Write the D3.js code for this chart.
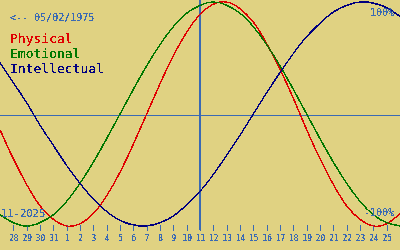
<!DOCTYPE html>
<html lang="en">
<head>
    <meta charset="UTF-8"/>
    <title>Biorhythm</title>
    <script type="text/javascript" src="https://d3js.org/d3.v7.min.js"></script>
    <style>
        body { margin: 0; background: #e0d282; }
        svg { display: block; }
    </style>
</head>
<body>
<script type="text/javascript">

    // one value per day, 27 Oct .. 26 Nov 2025
    var days = ["27", "28", "29", "30", "31", "1", "2", "3", "4", "5", "6", "7", "8", "9", "10",
        "11", "12", "13", "14", "15", "16", "17", "18", "19", "20", "21", "22", "23", "24", "25", "26"];

    var physical = [-0.14, -0.40, -0.63, -0.82, -0.94, -1.00, -0.98, -0.89, -0.73, -0.52, -0.27, 0, 0.27, 0.52, 0.73,
        0.89, 0.98, 1.00, 0.94, 0.82, 0.63, 0.40, 0.14, -0.14, -0.40, -0.63, -0.82, -0.94, -1.00, -0.98, -0.89];
    var emotional = [-0.90, -0.97, -1.00, -0.97, -0.90, -0.78, -0.62, -0.43, -0.22, 0, 0.22, 0.43, 0.62, 0.78, 0.90,
        0.97, 1.00, 0.97, 0.90, 0.78, 0.62, 0.43, 0.22, 0, -0.22, -0.43, -0.62, -0.78, -0.90, -0.97, -1.00];
    var intellectual = [0.46, 0.28, 0.10, -0.10, -0.28, -0.46, -0.62, -0.76, -0.87, -0.95, -0.99, -1.00, -0.97, -0.91, -0.81,
        -0.69, -0.54, -0.37, -0.19, 0, 0.19, 0.37, 0.54, 0.69, 0.81, 0.91, 0.97, 1.00, 0.99, 0.95, 0.87];

    var seriesNames = ["Physical", "Emotional", "Intellectual"];
    var seriesColors = ["#e00000", "#007800", "#000080"];
    var todayIndex = 15;
    var birthLabel = "<-- 05/02/1975";
    var monthLabel = "11-2025";

    var width = 400, height = 250;
    var blue = "#3a6ab4";
    var mono = "'DejaVu Sans Mono', monospace";

    var x = d3.scaleLinear().domain([0, days.length - 1]).range([0, width]);
    var y = d3.scaleLinear().domain([-1, 1]).range([226, 2]);

    var svg = d3.select("body").append("svg")
        .attr("width", width)
        .attr("height", height);

    // hard-edged look: drop the antialiasing by thresholding alpha
    var f = svg.append("defs").append("filter")
        .attr("id", "px")
        .attr("color-interpolation-filters", "sRGB")
        .attr("filterUnits", "userSpaceOnUse")
        .attr("x", 0).attr("y", 0)
        .attr("width", width).attr("height", height);
    f.append("feComponentTransfer")
        .append("feFuncA").attr("type", "discrete").attr("tableValues", "0 1 1");

    svg.append("rect")
        .attr("width", width).attr("height", height)
        .attr("fill", "#e0d282");

    var g = svg.append("g").attr("filter", "url(#px)");

    // day ticks along the bottom
    var tickIdx = d3.range(1, days.length - 1);
    var xAxis = d3.axisBottom(x)
        .tickValues(tickIdx)
        .tickSize(6)
        .tickPadding(3)
        .tickFormat(function (d) { return days[d]; });

    var ax = g.append("g")
        .attr("transform", "translate(0,225)")
        .call(xAxis);
    ax.select(".domain").remove();
    ax.selectAll("line").attr("stroke", blue).attr("shape-rendering", "crispEdges");
    ax.selectAll("text")
        .attr("fill", blue)
        .attr("font-family", mono)
        .attr("font-size", "9.5px")
        .attr("transform", "scale(0.82,1)");

    // zero line and today marker
    g.append("line")
        .attr("x1", 0).attr("x2", width)
        .attr("y1", y(0) + 1.5).attr("y2", y(0) + 1.5)
        .attr("stroke", blue).attr("stroke-width", 1)
        .attr("shape-rendering", "crispEdges");

    g.append("line")
        .attr("x1", x(todayIndex)).attr("x2", x(todayIndex))
        .attr("y1", 0).attr("y2", 230)
        .attr("stroke", blue).attr("stroke-width", 1.5);

    // curves
    var line = d3.line()
        .x(function (d, i) { return x(i); })
        .y(function (d) { return y(d); })
        .curve(d3.curveNatural);

    [physical, emotional, intellectual].forEach(function (vals, k) {
        g.append("path")
            .datum(vals)
            .attr("d", line)
            .attr("fill", "none")
            .attr("stroke", seriesColors[k])
            .attr("stroke-width", 1.2);
    });

    // texts
    g.append("text")
        .attr("x", 10).attr("y", 21)
        .attr("font-family", mono).attr("font-size", "10px")
        .attr("fill", blue)
        .text(birthLabel);

    g.selectAll(".legend")
        .data(seriesNames)
        .enter().append("text")
        .attr("class", "legend")
        .attr("x", 10)
        .attr("y", function (d, i) { return 43 + i * 15; })
        .attr("font-family", mono).attr("font-size", "13px")
        .attr("fill", function (d, i) { return seriesColors[i]; })
        .text(function (d) { return d; });

    g.append("text")
        .attr("x", 394).attr("y", 16)
        .attr("text-anchor", "end")
        .attr("font-family", mono).attr("font-size", "10px")
        .attr("fill", blue)
        .text("100%");

    g.append("text")
        .attr("x", 394).attr("y", 216)
        .attr("text-anchor", "end")
        .attr("font-family", mono).attr("font-size", "10px")
        .attr("fill", blue)
        .text("-100%");

    g.append("text")
        .attr("x", 1).attr("y", 217)
        .attr("font-family", mono).attr("font-size", "10.5px")
        .attr("fill", blue)
        .text(monthLabel);

</script>
</body>
</html>
